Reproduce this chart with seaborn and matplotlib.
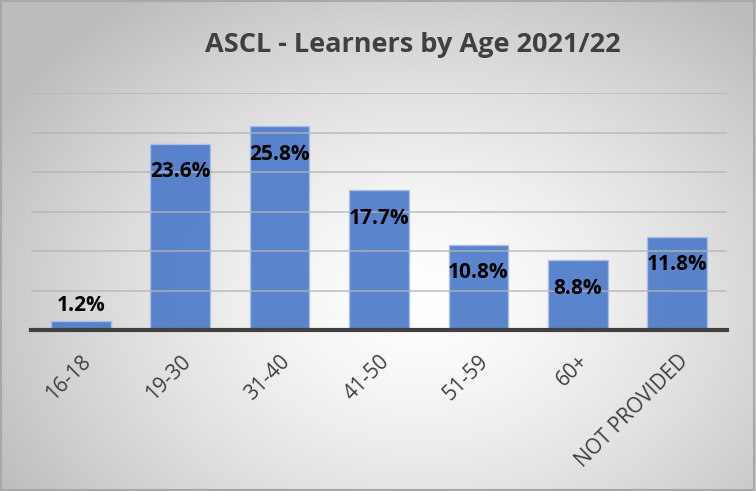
import numpy as np
import pandas as pd
import matplotlib
matplotlib.use("Agg")
import matplotlib.pyplot as plt
import seaborn as sns

categories = ["16-18", "19-30", "31-40", "41-50", "51-59", "60+", "NOT PROVIDED"]
values = [1.2, 23.6, 25.8, 17.7, 10.8, 8.8, 11.8]
labels = ["1.2%", "23.6%", "25.8%", "17.7%", "10.8%", "8.8%", "11.8%"]
title = "ASCL - Learners by Age 2021/22"

sns.set_theme(style="white")
plt.rcParams['font.family'] = ['Open Sans', 'DejaVu Sans']

W, H = 756, 491
fig = plt.figure(figsize=(W/100, H/100), dpi=100)

# radial gradient background
bg = fig.add_axes([0, 0, 1, 1], zorder=-10)
yy, xx = np.mgrid[0:H, 0:W]
cx, cy = 420, 300
d = np.sqrt(((xx-cx)/W*1.4)**2 + ((yy-cy)/H*1.2)**2)
v = np.clip(1.0 - 0.30*d**1.4, 0.74, 1.0)
img = np.dstack([v, v, v])
bg.imshow(img, aspect='auto', extent=[0, 1, 0, 1], origin='upper')
bg.set_xlim(0, 1); bg.set_ylim(0, 1)
bg.axis('off')
bg.add_patch(plt.Rectangle((0.001, 0.002), 0.997, 0.995, fill=False, ec="#a8a8a8", lw=1.5, transform=bg.transAxes))

ax = fig.add_axes([31/W, 1-330/H, (727-31)/W, (330-93)/H])
ax.patch.set_alpha(0)
df = pd.DataFrame({"cat": categories, "val": values})
sns.barplot(data=df, x="cat", y="val", ax=ax, color="#4a78c8", width=0.6,
            saturation=1, edgecolor="#a9c0e8", linewidth=1.0, alpha=0.9, zorder=2)
ax.set_ylim(0, 30)
ax.set_yticks([0, 5, 10, 15, 20, 25, 30])
ax.yaxis.grid(True, color="#b4b4b4", lw=1.2, zorder=3)
ax.set_axisbelow(False)
for l in ax.get_ygridlines():
    l.set_zorder(3)
    l.set_alpha(0.8)
ax.tick_params(axis='y', left=False, labelleft=False)
ax.tick_params(axis='x', bottom=False, pad=9)
for s in ["top", "right", "left"]:
    ax.spines[s].set_visible(False)
ax.spines["bottom"].set_color("#404040")
ax.spines["bottom"].set_linewidth(3)
ax.spines["bottom"].set_zorder(5)
ax.set_xlabel(""); ax.set_ylabel("")
ax.set_xlim(-0.5, len(categories)-0.5)
for t in ax.get_xticklabels():
    t.set_rotation(45)
    t.set_ha('right')
    t.set_rotation_mode('anchor')
    t.set_fontsize(15)
    t.set_color("#404040")

px = 1/7.9  # data units per pixel
for i, (v_, lab) in enumerate(zip(values, labels)):
    if v_ < 5:
        ax.text(i, v_ + 15*px, lab, ha='center', va='center', fontsize=15,
                fontweight='bold', color='black', zorder=6)
    else:
        ax.text(i, v_ - 28*px, lab, ha='center', va='center', fontsize=15,
                fontweight='bold', color='black', zorder=6)

fig.text(413/W, 1-45/H, title, ha='center', va='center', fontsize=19.5,
         fontweight='bold', color='#404040')

fig.savefig("out.png", dpi=100)
